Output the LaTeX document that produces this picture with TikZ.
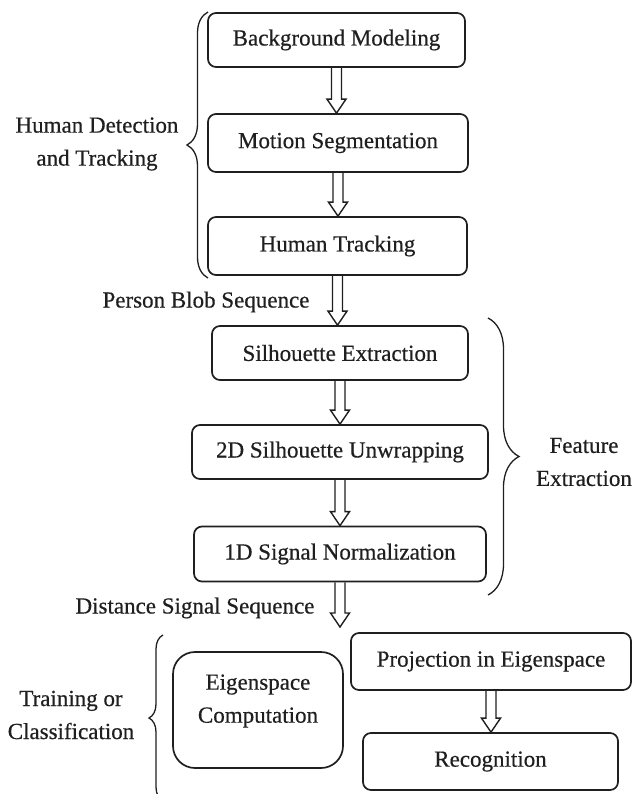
\documentclass[tikz,border=0pt]{standalone}
\usepackage{fontspec}
\setmainfont{Liberation Serif}[FakeBold=0.5]
\usetikzlibrary{calc,decorations.pathreplacing}
\begin{document}
\begin{tikzpicture}[x=1pt,y=-1pt,
  ink/.style={draw=black!88, line width=1.7pt},
  box/.style={ink, rounded corners=8pt, inner sep=0pt, align=center, text=black!88, font=\fontsize{23}{33}\selectfont},
  lbl/.style={inner sep=0pt, align=center, text=black!88, font=\fontsize{23}{33}\selectfont},
  hollow/.style={draw=black!88, line width=1.4pt, line join=miter,
    to path={let \p1=(\tikztostart), \p2=(\tikztotarget) in
      (\x1-5pt,\y1) -- (\x1-5pt,\y2+14pt) -- (\x1-9.5pt,\y2+14pt) -- (\x1,\y2)
      -- (\x1+9.5pt,\y2+14pt) -- (\x1+5pt,\y2+14pt) -- (\x1+5pt,\y1)}},
  brc/.style={draw=black!88, line width=1.3pt, decorate, decoration={brace, amplitude=#1}}
]
\clip (0,0) rectangle (633,794);
% boxes
\node[box, minimum width=257pt, minimum height=54pt] (b1) at (336.5,40) {Background Modeling};
\node[box, minimum width=260pt, minimum height=58pt] (b2) at (338,143) {Motion Segmentation};
\node[box, minimum width=259pt, minimum height=58pt] (b3) at (337.5,246) {Human Tracking};
\node[box, minimum width=256pt, minimum height=54pt] (b4) at (340,353) {Silhouette Extraction};
\node[box, minimum width=296pt, minimum height=54pt] (b5) at (340,452) {2D Silhouette Unwrapping};
\node[box, minimum width=292pt, minimum height=55pt] (b6) at (340,554) {1D Signal Normalization};
\node[box, minimum width=280pt, minimum height=57pt] (proj) at (491,661.5) {Projection in Eigenspace};
\node[box, minimum width=255pt, minimum height=57pt] (rec) at (490.5,761.5) {Recognition};
\node[box, rounded corners=22pt, minimum width=170pt, minimum height=116pt] (eig) at (258,710) {};
\node[lbl] (eigtext) at (258,701) {Eigenspace\\Computation};
% arrows
\coordinate (a6) at (340,627);
\draw[hollow] (b1.south) to (b2.north);
\draw[hollow] (b2.south) to (b3.north);
\draw[hollow] (b3.south) to (b4.north);
\draw[hollow] (b4.south) to (b5.north);
\draw[hollow] (b5.south) to (b6.north);
\draw[hollow] (b6.south) to (a6);
\draw[hollow] (proj.south) to (rec.north);
% braces
\draw[brc=21pt] (208,278) -- (208,12);
\draw[brc=31pt] (488,318) -- (488,595);
\draw[brc=14pt] (163,801) -- (163,635);
% labels
\node[lbl] (hdt) at (97,144) {Human Detection\\and Tracking};
\node[lbl] (fe) at (584,462) {Feature\\Extraction};
\node[lbl] (tc) at (71,715) {Training or\\Classification};
\node[lbl] (pbs) at (206,302) {Person Blob Sequence};
\node[lbl] (dss) at (195,608) {Distance Signal Sequence};
\end{tikzpicture}
\end{document}
